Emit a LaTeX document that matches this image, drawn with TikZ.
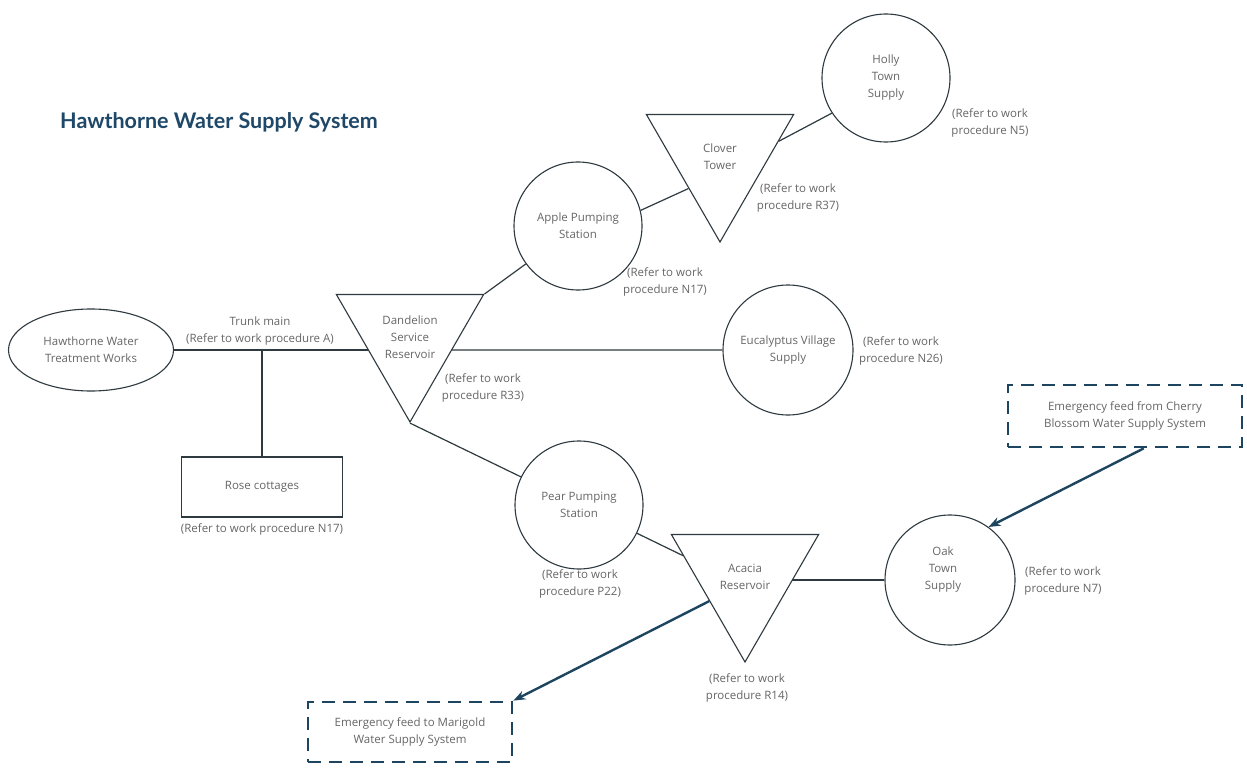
\documentclass[tikz,border=0pt]{standalone}
\usepackage{fontspec}
\setmainfont{Open Sans}
\newfontfamily\titlefont{Lato}
\usetikzlibrary{shapes.geometric,arrows.meta,calc}
\pgfdeclarelayer{paper}
\pgfdeclarelayer{bg}
\pgfsetlayers{paper,bg,main}
\definecolor{ink}{HTML}{2E3A40}
\definecolor{txtgray}{HTML}{666666}
\definecolor{emblue}{HTML}{1E4560}
\definecolor{titleblue}{HTML}{1F4868}
\begin{document}
\begin{tikzpicture}[x=1pt,y=-1pt,
 every node/.style={font=\fontsize{11.5}{17}\selectfont, text=txtgray},
 stn/.style={circle, draw=ink, line width=1.1pt, fill=white, minimum size=128pt, inner sep=0pt, align=center},
 res/.style={regular polygon, regular polygon sides=3, shape border rotate=180, draw=ink, line width=1.1pt, fill=white, minimum size=170pt, inner sep=0pt, align=center},
 pipe/.style={draw=ink, line width=1.2pt},
 emline/.style={draw=emblue, line width=2.4pt, -{Stealth[length=12pt,width=9pt]}},
 embox/.style={draw=emblue, line width=2.8pt, dash pattern=on 13pt off 8pt, fill=white, align=center, inner sep=0pt},
 lbl/.style={align=center, inner sep=0pt}
]
\useasboundingbox (0,0) rectangle (1247,770);
\begin{pgfonlayer}{paper}
\fill[white] (0,0) rectangle (1247,770);
\end{pgfonlayer}

\node[text=titleblue, font=\titlefont\bfseries\fontsize{21.5}{24}\selectfont, inner sep=0pt] (title) at (219,122) {Hawthorne Water Supply System};

\node[ellipse, draw=ink, line width=1.1pt, fill=white, minimum width=165pt, minimum height=82pt, inner sep=0pt, align=center] (hw) at (91,350) {Hawthorne Water\\Treatment Works};
\node[draw=ink, line width=1.1pt, fill=white, minimum width=161pt, minimum height=60pt, inner sep=0pt] (rose) at (262,487) {Rose cottages};
\node[res] (dand) at (410,337) {Dandelion\\Service\\Reservoir};
\node[stn] (apple) at (578,226) {Apple Pumping\\Station};
\node[res] (clover) at (720,157) {Clover\\Tower};
\node[stn] (holly) at (886,78) {Holly\\Town\\Supply};
\node[stn, minimum size=130pt] (eu) at (788,350) {Eucalyptus Village\\Supply};
\node[stn] (pear) at (579,505) {Pear Pumping\\Station};
\node[res] (acacia) at (745,577) {Acacia\\Reservoir};
\node[stn, minimum size=130pt] (oak) at (950,580) {};
\node[lbl] (oaktxt) at (943,570) {Oak\\Town\\Supply};
\node[embox, minimum width=234pt, minimum height=62pt] (cherry) at (1125,416) {Emergency feed from Cherry\\Blossom Water Supply System};
\node[embox, minimum width=204pt, minimum height=60pt] (mari) at (410,732) {Emergency feed to Marigold\\Water Supply System};

\node[lbl] (ltrunk) at (260,331) {Trunk main\\(Refer to work procedure A)};
\node[lbl] (lrose) at (262,529) {(Refer to work procedure N17)};
\node[lbl] (lapple) at (665,282) {(Refer to work\\procedure N17)};
\node[lbl] (lclover) at (798,198) {(Refer to work\\procedure R37)};
\node[lbl] (lholly) at (990,123) {(Refer to work\\procedure N5)};
\node[lbl] (leu) at (901,351) {(Refer to work\\procedure N26)};
\node[lbl] (ldand) at (483,388) {(Refer to work\\procedure R33)};
\node[lbl] (lpear) at (580,584) {(Refer to work\\procedure P22)};
\node[lbl] (lacacia) at (747,688) {(Refer to work\\procedure R14)};
\node[lbl] (loak) at (1063,581) {(Refer to work\\procedure N7)};

\begin{pgfonlayer}{bg}
\draw[pipe] (hw.east) -- (hw.east -| dand.center);
\draw[pipe] (rose.north) -- (rose.north |- hw.east);
\draw[pipe] (dand.corner 2) -- (apple);
\draw[pipe] (apple.14) -- (clover.225);
\draw[pipe] (clover.15) -- (holly.213);
\draw[pipe, draw=ink!65] (eu.west) -- (eu.west -| dand.center);
\draw[pipe] (dand.corner 1) -- (pear);
\draw[pipe] (pear.-26) -- (acacia.161);
\draw[pipe] (oak.west) -- (oak.west -| acacia.center);
\end{pgfonlayer}

\draw[emline] (cherry.-60) -- (oak.54);
\draw[emline] (acacia.214) -- (mari.north east);
\end{tikzpicture}
\end{document}
